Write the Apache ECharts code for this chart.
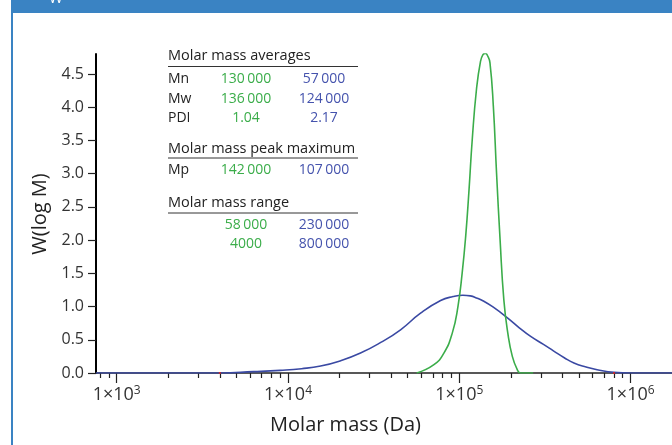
<!DOCTYPE html>
<html>
<head>
<meta charset="utf-8">
<script src="https://cdn.jsdelivr.net/npm/echarts@6/dist/echarts.min.js"></script>
<style>
html, body { margin: 0; padding: 0; background: #fff; }
#container { width: 672px; height: 445px; }
</style>
</head>
<body>
<div id="container"></div>
<script>
// narrow sample (green)
var narrowMass = [56400, 71100, 81300, 91000, 98200, 104000, 109000, 114000, 119000, 126000, 133000, 137500, 142000, 146500, 151000, 158000, 165000, 173000, 182000, 192000, 204000, 218000, 228000, 270000];
var narrowW = [0, 0.125, 0.30, 0.60, 1.00, 1.51, 2.06, 2.76, 3.51, 4.27, 4.69, 4.79, 4.81, 4.77, 4.67, 4.02, 3.01, 2.01, 1.10, 0.60, 0.25, 0.05, 0, 0];

// broad sample (blue)
var broadMass = [757, 4000, 6300, 9000, 12000, 15500, 20300, 26500, 34800, 45400, 59400, 77800, 92000, 105000, 116000, 126000, 139000, 158000, 191000, 224000, 261000, 310000, 356000, 410000, 467000, 550000, 638000, 800000, 1000000, 1745000];
var broadW = [0, 0, 0.02, 0.04, 0.065, 0.105, 0.185, 0.30, 0.46, 0.65, 0.90, 1.09, 1.15, 1.17, 1.16, 1.13, 1.08, 0.99, 0.83, 0.68, 0.55, 0.43, 0.33, 0.23, 0.15, 0.09, 0.05, 0.01, 0, 0];

var xMajorTicks = [1e3, 1e4, 1e5, 1e6];
var xMinorTicks = [800, 900,
    2000, 3000, 4000, 5000, 6000, 7000, 8000, 9000,
    20000, 30000, 40000, 50000, 60000, 70000, 80000, 90000,
    200000, 300000, 400000, 500000, 600000, 700000, 800000, 900000];
var yTicks = [0, 0.5, 1.0, 1.5, 2.0, 2.5, 3.0, 3.5, 4.0, 4.5];
var rangeMarks = [4000, 800000];

var averageRows = [['Mn', '130\u2009000', '57\u2009000'], ['Mw', '136\u2009000', '124\u2009000'], ['PDI', '1.04', '2.17']];
var peakRows = [['Mp', '142\u2009000', '107\u2009000']];
var rangeRows = [['', '58\u2009000', '230\u2009000'], ['', '4000', '800\u2009000']];

var GREEN = '#3bad4a';
var BLUE = '#3a49a3';
var FONT = 'Open Sans';

function pairs(xs, ys) {
    return xs.map(function (x, i) { return [x, ys[i]]; });
}

var table = [];
function addText(text, x, y, color, size, align) {
    table.push({
        type: 'text', x: x, y: y, silent: true,
        style: { text: text, fill: color, font: size + 'px "' + FONT + '"', align: align || 'left', verticalAlign: 'middle' }
    });
}
function addRule(y) {
    table.push({
        type: 'line', silent: true,
        shape: { x1: 168, y1: y, x2: 358, y2: y },
        style: { stroke: '#333', lineWidth: 1 }
    });
}
function addRows(rows, y0) {
    rows.forEach(function (r, i) {
        var y = y0 + i * 19.5;
        addText(r[0], 168, y, '#222', 14);
        addText(r[1], 246, y, GREEN, 14, 'center');
        addText(r[2], 324, y, '#4553ad', 14, 'center');
    });
}

addText('Molar mass averages', 168, 56, '#222', 14.5);
addRule(66.5);
addRows(averageRows, 79.5);
addText('Molar mass peak maximum', 168, 148.5, '#222', 14.5);
addRule(158);
addRows(peakRows, 170);
addText('Molar mass range', 168, 203, '#222', 14.5);
addRule(213);
addRows(rangeRows, 225);

var chartDom = document.getElementById('container');
var myChart = echarts.init(chartDom, null, { renderer: 'canvas' });

var option = {
    animation: false,
    backgroundColor: '#fff',
    grid: { left: 96, right: 0, top: 54, bottom: 72 },
    xAxis: [
        {
            type: 'log',
            logBase: 10,
            min: 757,
            max: 1745000,
            splitLine: { show: false },
            axisLine: { lineStyle: { color: '#222', width: 1.5 } },
            axisTick: { customValues: xMajorTicks, length: 10, lineStyle: { color: '#222', width: 1.2 } },
            axisLabel: {
                customValues: xMajorTicks,
                margin: 12,
                formatter: function (v) {
                    return '{b|1×10}{s|' + Math.round(Math.log10(v)) + '}';
                },
                rich: {
                    b: { fontFamily: FONT, fontSize: 18, lineHeight: 20, color: '#333' },
                    s: { fontFamily: FONT, fontSize: 12, lineHeight: 12, color: '#333', verticalAlign: 'top' }
                }
            }
        },
        {
            type: 'log',
            logBase: 10,
            min: 757,
            max: 1745000,
            position: 'bottom',
            splitLine: { show: false },
            axisLine: { show: false },
            axisLabel: { show: false },
            axisTick: { customValues: xMinorTicks, length: 5, lineStyle: { color: '#222', width: 1.2 } }
        }
    ],
    yAxis: {
        type: 'value',
        min: 0,
        max: 4.8,
        splitLine: { show: false },
        axisLine: { show: true, lineStyle: { color: '#000', width: 2 } },
        axisTick: { show: true, customValues: yTicks, length: 8, lineStyle: { color: '#222', width: 1.2 } },
        axisLabel: {
            customValues: yTicks,
            margin: 12,
            fontFamily: FONT,
            fontSize: 16,
            color: '#333',
            formatter: function (v) { return v.toFixed(1); }
        }
    },
    graphic: [
        { type: 'rect', silent: true, shape: { x: 11, y: 0, width: 661, height: 13 }, style: { fill: '#3a83c3' } },
        { type: 'rect', silent: true, shape: { x: 11, y: 0, width: 2, height: 445 }, style: { fill: '#3a83c3' } },
        { type: 'text', silent: true, x: 56, y: 6, style: { text: 'W', fill: '#fff', font: '15px "' + FONT + '"', align: 'center', verticalAlign: 'bottom' } },
        { type: 'text', silent: true, x: 40, y: 214, rotation: Math.PI / 2, style: { text: 'W(log M)', fill: '#222', font: '20px "' + FONT + '"', align: 'center', verticalAlign: 'middle' } },
        { type: 'text', silent: true, x: 345.5, y: 425, style: { text: 'Molar mass (Da)', fill: '#222', font: '20px "' + FONT + '"', align: 'center', verticalAlign: 'middle' } }
    ].concat(table),
    series: [
        {
            name: 'broad',
            type: 'line',
            data: pairs(broadMass, broadW),
            smooth: 0.5,
            showSymbol: false,
            lineStyle: { color: BLUE, width: 1.6 },
            z: 2
        },
        {
            name: 'narrow',
            type: 'line',
            data: pairs(narrowMass, narrowW),
            smooth: 0.5,
            showSymbol: false,
            lineStyle: { color: GREEN, width: 1.6 },
            z: 3
        },
        {
            name: 'range',
            type: 'scatter',
            data: rangeMarks.map(function (m) { return [m, 0]; }),
            symbol: 'rect',
            symbolSize: [2, 2],
            itemStyle: { color: '#e02020' },
            z: 4
        }
    ]
};

if (option && typeof option === 'object') {
    myChart.setOption(option);
}

window.addEventListener('resize', myChart.resize);
</script>
</body>
</html>
